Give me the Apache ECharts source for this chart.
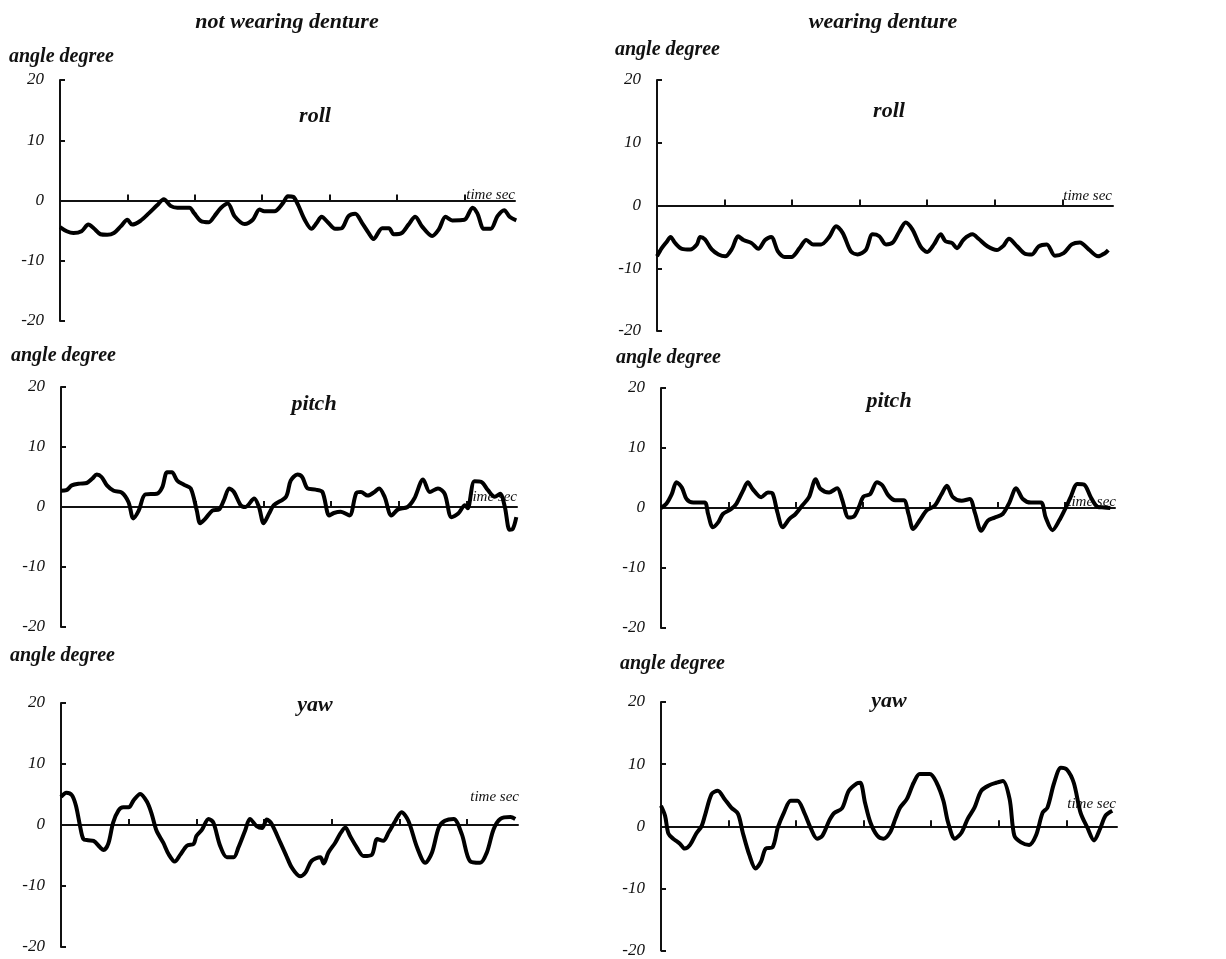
<!DOCTYPE html>
<html>
<head>
<meta charset="utf-8">
<script src="https://cdn.jsdelivr.net/npm/echarts@6/dist/echarts.min.js"></script>
<style>
  html, body { margin: 0; padding: 0; background: #fff; }
  #chart { width: 1226px; height: 959px; }
</style>
</head>
<body>
<div id="chart"></div>
<script>
// time (sec) and angle (degree)
const rollOffT = [0, 0.10, 0.20, 0.32, 0.42, 0.50, 0.60, 0.70, 0.80, 0.90, 1.00, 1.07, 1.19, 1.32, 1.44, 1.54, 1.64, 1.74, 1.92, 1.99, 2.09, 2.21, 2.29, 2.39, 2.49, 2.59, 2.74, 2.86, 2.96, 3.03, 3.18, 3.31, 3.38, 3.46, 3.53, 3.63, 3.73, 3.81, 3.88, 3.98, 4.08, 4.18, 4.28, 4.38, 4.48, 4.58, 4.65, 4.78, 4.88, 4.95, 5.07, 5.17, 5.27, 5.37, 5.52, 5.62, 5.72, 5.82, 6.00, 6.12, 6.19, 6.29, 6.39, 6.49, 6.59, 6.67, 6.77];
const rollOffV = [-4.4, -5.1, -5.4, -5.1, -4.0, -4.6, -5.6, -5.7, -5.4, -4.3, -3.2, -4.0, -3.4, -2.1, -0.8, 0.2, -0.9, -1.2, -1.2, -2.1, -3.4, -3.6, -2.6, -1.2, -0.5, -2.6, -3.9, -3.2, -1.5, -1.8, -1.8, -0.4, 0.7, 0.6, -0.7, -3.2, -4.7, -3.7, -2.7, -3.7, -4.7, -4.6, -2.6, -2.2, -3.7, -5.4, -6.4, -4.6, -4.6, -5.6, -5.4, -4.0, -2.7, -4.3, -5.9, -4.8, -2.7, -3.3, -3.2, -1.2, -2.1, -4.7, -4.7, -2.6, -1.6, -2.7, -3.3];

const rollOnT = [0, 0.07, 0.15, 0.20, 0.27, 0.37, 0.49, 0.59, 0.64, 0.71, 0.81, 0.91, 1.01, 1.11, 1.20, 1.28, 1.40, 1.50, 1.60, 1.69, 1.79, 1.89, 1.99, 2.11, 2.21, 2.31, 2.43, 2.55, 2.65, 2.75, 2.87, 2.97, 3.09, 3.19, 3.29, 3.39, 3.49, 3.59, 3.68, 3.78, 3.90, 4.00, 4.10, 4.20, 4.27, 4.37, 4.44, 4.54, 4.67, 4.76, 4.89, 5.03, 5.13, 5.21, 5.33, 5.45, 5.55, 5.65, 5.77, 5.89, 6.02, 6.14, 6.26, 6.39, 6.53, 6.63, 6.68];
const rollOnV = [-8.1, -6.8, -5.7, -5.0, -6.0, -6.9, -7.0, -6.2, -5.0, -5.4, -7.0, -7.8, -8.1, -6.9, -4.9, -5.5, -6.0, -6.9, -5.5, -5.0, -7.3, -8.2, -8.2, -6.8, -5.5, -6.2, -6.2, -5.0, -3.3, -4.4, -7.3, -7.8, -7.1, -4.6, -4.9, -6.2, -5.9, -4.1, -2.7, -3.8, -6.5, -7.4, -6.2, -4.6, -5.7, -6.0, -6.8, -5.4, -4.6, -5.3, -6.5, -7.1, -6.4, -5.3, -6.5, -7.7, -7.8, -6.5, -6.2, -8.0, -7.6, -6.2, -5.9, -7.0, -8.1, -7.6, -7.1];

const pitchOffT = [0, 0.08, 0.16, 0.28, 0.38, 0.46, 0.53, 0.60, 0.68, 0.78, 0.90, 1.00, 1.07, 1.15, 1.25, 1.42, 1.50, 1.57, 1.64, 1.72, 1.82, 1.92, 2.01, 2.06, 2.14, 2.24, 2.34, 2.41, 2.49, 2.56, 2.66, 2.73, 2.86, 2.93, 3.00, 3.08, 3.15, 3.33, 3.40, 3.50, 3.57, 3.65, 3.77, 3.87, 3.97, 4.04, 4.14, 4.27, 4.37, 4.44, 4.54, 4.64, 4.71, 4.79, 4.89, 4.99, 5.13, 5.23, 5.36, 5.46, 5.58, 5.68, 5.78, 5.88, 5.98, 6.02, 6.12, 6.22, 6.32, 6.42, 6.50, 6.57, 6.64, 6.69, 6.74];
const pitchOffV = [2.7, 2.8, 3.6, 3.9, 4.0, 4.7, 5.4, 5.0, 3.6, 2.7, 2.4, 0.8, -1.9, -0.6, 2.1, 2.2, 3.3, 5.8, 5.8, 4.4, 3.7, 3.1, -0.6, -2.7, -1.9, -0.6, -0.4, 1.1, 3.1, 2.5, 0.3, 0.0, 1.4, 0.0, -2.7, -1.1, 0.3, 1.7, 4.4, 5.4, 5.0, 3.1, 2.9, 2.5, -1.4, -1.0, -0.8, -1.4, 2.3, 2.5, 1.9, 2.5, 3.1, 1.7, -1.4, -0.4, 0.0, 1.4, 4.6, 2.5, 3.1, 2.2, -1.7, -1.1, 0.3, -0.2, 4.3, 4.2, 2.8, 1.7, 2.2, 0.0, -3.8, -3.6, -1.7];

const pitchOnT = [0, 0.08, 0.16, 0.23, 0.31, 0.38, 0.48, 0.65, 0.70, 0.77, 0.85, 0.92, 1.04, 1.12, 1.22, 1.29, 1.36, 1.49, 1.59, 1.66, 1.73, 1.81, 1.91, 2.00, 2.10, 2.20, 2.30, 2.37, 2.50, 2.62, 2.69, 2.79, 2.87, 2.94, 3.01, 3.11, 3.21, 3.29, 3.38, 3.48, 3.61, 3.68, 3.75, 3.85, 3.95, 4.07, 4.17, 4.25, 4.34, 4.47, 4.59, 4.67, 4.76, 4.86, 4.96, 5.08, 5.18, 5.28, 5.38, 5.50, 5.65, 5.72, 5.82, 5.92, 6.02, 6.09, 6.19, 6.29, 6.39, 6.49, 6.59, 6.68];
const pitchOnV = [0.0, 0.7, 2.3, 4.3, 3.4, 1.5, 0.9, 0.9, -1.0, -3.2, -2.4, -1.0, -0.2, 0.7, 2.9, 4.3, 3.2, 1.8, 2.6, 2.4, -0.7, -3.2, -1.8, -1.0, 0.4, 1.8, 4.8, 3.2, 2.6, 3.3, 1.5, -1.6, -1.4, 0.1, 1.9, 2.3, 4.3, 3.8, 2.1, 1.3, 1.3, -1.0, -3.5, -2.0, -0.4, 0.4, 2.3, 3.7, 1.8, 1.2, 1.5, -0.9, -3.8, -2.1, -1.6, -1.0, 0.9, 3.3, 1.5, 0.9, 0.9, -1.6, -3.7, -2.1, 0.1, 1.8, 4.0, 3.9, 1.8, 0.2, 0.1, 0.0];

const yawOffT = [0, 0.08, 0.16, 0.22, 0.28, 0.33, 0.40, 0.48, 0.58, 0.63, 0.70, 0.77, 0.85, 0.92, 1.00, 1.07, 1.17, 1.27, 1.34, 1.41, 1.51, 1.59, 1.68, 1.76, 1.86, 1.96, 2.00, 2.08, 2.18, 2.25, 2.35, 2.45, 2.55, 2.62, 2.72, 2.79, 2.89, 2.97, 3.04, 3.11, 3.24, 3.33, 3.41, 3.53, 3.61, 3.70, 3.83, 3.88, 3.95, 4.05, 4.12, 4.20, 4.27, 4.37, 4.47, 4.59, 4.67, 4.76, 4.84, 4.94, 5.03, 5.13, 5.26, 5.38, 5.48, 5.58, 5.67, 5.80, 5.92, 6.04, 6.19, 6.29, 6.39, 6.49, 6.64, 6.71];
const yawOffV = [4.6, 5.3, 4.9, 3.2, -0.1, -2.3, -2.5, -2.6, -3.7, -4.1, -3.0, 0.4, 2.4, 2.9, 2.9, 4.0, 5.1, 3.8, 1.8, -0.9, -2.9, -4.8, -6.0, -4.9, -3.4, -3.1, -1.8, -0.8, 1.0, 0.4, -3.4, -5.3, -5.3, -3.7, -0.9, 1.0, -0.2, -0.5, 0.9, 0.2, -2.9, -5.1, -7.0, -8.4, -7.8, -5.9, -5.3, -6.3, -4.5, -2.9, -1.5, -0.4, -1.8, -3.7, -5.1, -4.9, -2.3, -2.6, -1.2, 0.7, 2.1, 0.7, -3.7, -6.2, -4.5, -0.4, 0.7, 1.0, -1.5, -5.9, -6.2, -4.5, -0.7, 1.0, 1.3, 1.0];

const yawOnT = [0, 0.06, 0.11, 0.18, 0.28, 0.35, 0.43, 0.52, 0.60, 0.65, 0.75, 0.84, 0.94, 1.04, 1.14, 1.21, 1.31, 1.40, 1.48, 1.55, 1.65, 1.73, 1.82, 1.92, 2.02, 2.12, 2.22, 2.31, 2.39, 2.49, 2.56, 2.68, 2.78, 2.90, 2.95, 3.02, 3.10, 3.20, 3.29, 3.39, 3.47, 3.54, 3.64, 3.74, 3.83, 3.98, 4.08, 4.18, 4.25, 4.35, 4.45, 4.54, 4.64, 4.74, 4.86, 4.96, 5.06, 5.16, 5.23, 5.33, 5.45, 5.55, 5.65, 5.72, 5.82, 5.92, 6.01, 6.11, 6.21, 6.31, 6.41, 6.50, 6.58, 6.68];
const yawOnV = [3.3, 1.7, -1.2, -2.0, -2.8, -3.6, -3.0, -1.2, 0.0, 1.7, 5.2, 5.7, 4.4, 3.0, 2.0, -1.0, -4.7, -6.8, -5.7, -3.6, -3.4, -0.2, 2.2, 4.1, 4.1, 2.2, -0.4, -2.0, -1.5, 0.9, 2.1, 2.9, 5.7, 6.9, 7.0, 3.8, 0.6, -1.5, -2.0, -1.0, 1.2, 3.0, 4.4, 7.0, 8.4, 8.4, 7.0, 4.1, 0.6, -2.0, -1.0, 1.2, 3.0, 5.7, 6.6, 7.0, 7.3, 4.4, -1.5, -2.6, -3.0, -1.5, 2.2, 3.0, 7.0, 9.4, 9.1, 7.0, 2.2, -0.2, -2.3, -0.4, 1.7, 2.5];

const yTicks = [-20, -10, 0, 10, 20];
const xTicks = [1, 2, 3, 4, 5, 6];
const panelNames = ['roll', 'roll', 'pitch', 'pitch', 'yaw', 'yaw'];
const columnNames = ['not wearing denture', 'wearing denture'];

const series = [
  [rollOffT, rollOffV], [rollOnT, rollOnV],
  [pitchOffT, pitchOffV], [pitchOnT, pitchOnV],
  [yawOffT, yawOffV], [yawOnT, yawOnV]
];

// panel boxes, measured in px
const grids = [
  { left: 60, top: 80, width: 455, height: 241 },
  { left: 657, top: 80, width: 456, height: 251 },
  { left: 61, top: 387, width: 456, height: 240 },
  { left: 661, top: 388, width: 454, height: 240 },
  { left: 61, top: 703, width: 457, height: 244 },
  { left: 661, top: 702, width: 456, height: 251 }
];
const nameSpots = [[315, 116], [889, 111], [314, 404], [889, 401], [315, 705], [889, 701]];
const angleSpots = [[9, 57], [615, 50], [11, 356], [616, 358], [10, 656], [620, 664]];
const timeSpots = [[515, 195], [1112, 196], [517, 497], [1116, 502], [519, 797], [1116, 804]];

const serif = '"Liberation Serif", "Times New Roman", serif';
const axisColor = '#111';

function text(str, x, y, size, bold, align) {
  return {
    type: 'text', x: x, y: y, silent: true,
    style: {
      text: str, fill: '#111', align: align, verticalAlign: 'middle',
      fontFamily: serif, fontStyle: 'italic', fontWeight: bold ? 'bold' : 'normal', fontSize: size
    }
  };
}

const graphics = [
  text(columnNames[0], 287, 22, 22, true, 'center'),
  text(columnNames[1], 883, 22, 22, true, 'center')
];
grids.forEach((g, i) => {
  graphics.push(text(panelNames[i], nameSpots[i][0], nameSpots[i][1], 22, true, 'center'));
  graphics.push(text('angle degree', angleSpots[i][0], angleSpots[i][1], 20, true, 'left'));
  graphics.push(text('time sec', timeSpots[i][0], timeSpots[i][1], 15, false, 'right'));
});

const option = {
  backgroundColor: '#fff',
  animation: false,
  grid: grids.map(g => Object.assign({ containLabel: false }, g)),
  xAxis: grids.map((g, i) => ({
    type: 'value', gridIndex: i, min: 0, max: 6.75,
    axisLine: { onZero: true, lineStyle: { color: axisColor, width: 2 } },
    axisTick: { inside: true, length: 6, customValues: xTicks, lineStyle: { color: axisColor, width: 2 } },
    axisLabel: { show: false },
    splitLine: { show: false }
  })),
  yAxis: grids.map((g, i) => ({
    type: 'value', gridIndex: i, min: -20, max: 20, interval: 10,
    axisLine: { show: true, onZero: false, lineStyle: { color: axisColor, width: 2 } },
    axisTick: { show: true, inside: true, length: 5, lineStyle: { color: axisColor, width: 2 } },
    axisLabel: {
      customValues: yTicks, margin: 16, color: '#111',
      fontFamily: serif, fontStyle: 'italic', fontSize: 17
    },
    splitLine: { show: false }
  })),
  series: series.map((s, i) => ({
    type: 'line', xAxisIndex: i, yAxisIndex: i,
    data: s[0].map((t, k) => [t, s[1][k]]),
    showSymbol: false, smooth: 0.3,
    lineStyle: { color: '#000', width: 4 }
  })),
  graphic: graphics
};

const chart = echarts.init(document.getElementById('chart'));
chart.setOption(option);
</script>
</body>
</html>
